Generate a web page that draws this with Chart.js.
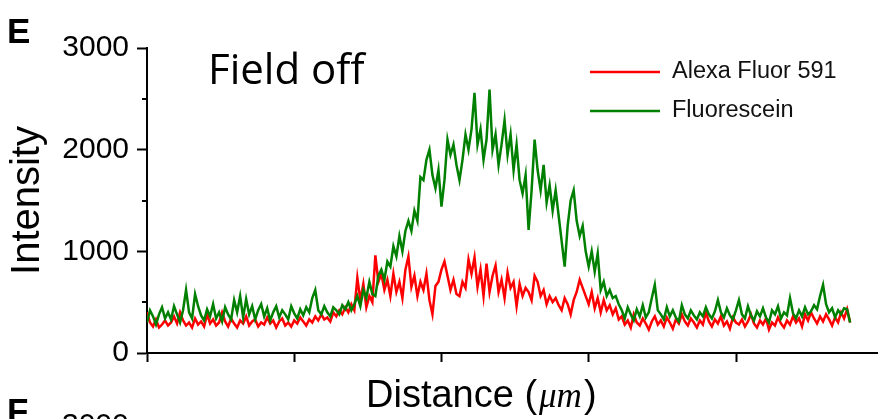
<!DOCTYPE html>
<html>
<head>
<meta charset="utf-8">
<script src="https://cdn.jsdelivr.net/npm/chart.js@4.4.0/dist/chart.umd.min.js"></script>
<style>
  html, body { margin: 0; padding: 0; background: #fff; }
  #wrap { width: 878px; height: 419px; position: relative; }
</style>
</head>
<body>
<div id="wrap"><canvas id="chart" width="878" height="419"></canvas></div>
<script>
const seriesNames = ['Alexa Fluor 591', 'Fluorescein'];
const seriesColors = ['#ff0000', '#008000'];

// intensity profiles, one sample every ~3 px
const alexaValues = [
  400,300,260,330,250,280,320,270,300,360, 290,400,320,270,300,250,340,280,310,260,
  380,290,330,270,300,400,310,260,340,290, 250,320,290,360,270,310,330,260,300,280,
  350,290,320,250,310,340,270,300,260,320, 290,350,310,270,330,300,360,320,380,330,
  350,310,400,360,420,380,450,400,480,420,
  740,520,680,450,560,500,960,700,780,620, 720,560,780,600,700,540,820,950,650,760,
  560,700,
  620,780,520,380,660,700,820,900,760,620, 720,580,560,700,640,920,780,940,650,820,
  560,880,600,760,860,600,720,540,790,640, 700,460,680,560,640,600,520,760,700,560,
  620,480,560,500,540,470,
  420,540,480,380,520,600,720,640,560,480, 600,440,540,400,520,420,470,380,440,330,
  360,280,320,250,380,300,270,340,290,230, 310,360,280,320,260,350,300,240,330,290,
  380,310,270,340,300,250,320,280,400,310, 260,330,290,360,270,310,240,350,300,280,
  330,260,310,380,290,250,320,280,340,230, 300,270,350,290,250,320,280,360,300,340,
  260,380,320,400,340,290,360,310,380,330, 270,350,300,400,340,430,300
];
const fluoresceinValues = [
  300,420,360,280,380,450,340,400,330,460, 380,300,420,620,400,340,580,460,370,320,
  430,360,480,340,400,310,450,380,330,520, 400,560,350,530,380,460,330,420,480,360,
  440,320,400,460,350,420,380,330,460,390, 340,430,370,450,400,540,620,420,380,460,
  400,360,450,420,380,470,430,500,420,480,
  560,460,620,540,700,580,560,760,820,720, 900,850,1050,950,1150,1000,1200,1300,1200,1400,
  1300,1730,
  1700,1900,2000,1750,1620,1800,1440,1700,2100,1950, 2050,1850,1700,1900,2150,2000,2200,2560,2050,2200,
  1900,2100,2590,2000,2150,1850,2050,2290,1950,2150, 1800,2050,1700,1570,1750,1210,1600,2100,1800,1600,
  1850,1480,1650,1400,1600,1350,
  1100,850,1250,1500,1600,1300,1150,1250,1000,850, 1000,800,980,620,700,560,620,540,560,480,
  420,340,450,380,320,430,360,470,350,400, 540,670,420,380,330,450,360,420,350,310,
  470,380,340,420,370,330,400,360,450,380, 340,410,520,400,350,440,370,330,420,520,
  380,340,460,370,320,410,360,440,350,300, 420,380,460,340,400,370,540,390,340,420,
  360,450,380,410,470,430,560,670,480,400, 440,350,420,380,440,430,300
];

const distStep = 0.0204;
const distance = alexaValues.map((_, i) => +(i * distStep).toFixed(4));
const xTicks = [0, 1, 2, 3, 4];
const xMax = 4.963;
const yTicks = [0, 1000, 2000, 3000];
const yMinorTicks = [500, 1500, 2500];

const sans = "'Liberation Sans', Arial, sans-serif";

const toPoints = vals => vals.map((v, i) => ({ x: distance[i], y: v }));

const annotate = {
  id: 'annotate',
  afterDraw(chart) {
    const ctx = chart.ctx;
    const ys = chart.scales.y;
    const left = chart.chartArea.left;
    ctx.save();

    // minor ticks on the y axis
    ctx.strokeStyle = '#000';
    ctx.lineWidth = 2;
    yMinorTicks.forEach(v => {
      const py = Math.round(ys.getPixelForValue(v));
      ctx.beginPath();
      ctx.moveTo(left - 5, py);
      ctx.lineTo(left, py);
      ctx.stroke();
    });

    // x axis title with italic unit
    ctx.fillStyle = '#000';
    ctx.textBaseline = 'alphabetic';
    ctx.textAlign = 'left';
    let tx = 366;
    const ty = 407;
    ctx.font = '38px ' + sans;
    ctx.fillText('Distance (', tx, ty);
    tx += ctx.measureText('Distance (').width;
    ctx.font = "italic 35px 'Liberation Serif', 'Times New Roman', serif";
    ctx.fillText('\u03bcm', tx + 2, ty);
    tx += ctx.measureText('\u03bcm').width + 4;
    ctx.font = '38px ' + sans;
    ctx.fillText(')', tx, ty);

    // panel text
    ctx.font = "42px 'Open Sans', sans-serif";
    ctx.fillText('Field off', 208, 84);

    ctx.font = 'bold 35px ' + sans;
    ctx.fillText('E', 7, 43);
    ctx.fillText('F', 7, 423);
    ctx.font = '30px ' + sans;
    ctx.fillText('3000', 62, 434);

    // legend
    chart.data.datasets.forEach((ds, i) => {
      const ly = 72 + i * 39;
      ctx.strokeStyle = ds.borderColor;
      ctx.lineWidth = 2.5;
      ctx.beginPath();
      ctx.moveTo(590, ly);
      ctx.lineTo(660, ly);
      ctx.stroke();
      ctx.fillStyle = '#111';
      ctx.font = '23.5px ' + sans;
      ctx.textBaseline = 'middle';
      ctx.fillText(ds.label, 672, ly);
    });
    ctx.restore();
  }
};

const axisGrid = tick => ({
  drawOnChartArea: false,
  drawTicks: true,
  tickLength: tick,
  tickWidth: 2,
  tickColor: '#000'
});

new Chart(document.getElementById('chart'), {
  type: 'line',
  data: {
    datasets: [
      {
        label: seriesNames[0],
        data: toPoints(alexaValues),
        borderColor: seriesColors[0],
        borderWidth: 2.5,
        pointRadius: 0,
        tension: 0,
        order: 1
      },
      {
        label: seriesNames[1],
        data: toPoints(fluoresceinValues),
        borderColor: seriesColors[1],
        borderWidth: 2.5,
        pointRadius: 0,
        tension: 0,
        order: 0
      }
    ]
  },
  options: {
    responsive: false,
    animation: false,
    layout: { padding: { top: 48, right: 0, bottom: 0, left: 0 } },
    plugins: { legend: { display: false }, tooltip: { enabled: false } },
    scales: {
      x: {
        type: 'linear',
        min: 0,
        max: xMax,
        afterBuildTicks: s => { s.ticks = xTicks.map(v => ({ value: v })); },
        afterFit: s => { s.height = 66; s.paddingLeft = 0; s.paddingRight = 0; },
        ticks: { display: false },
        grid: axisGrid(9),
        border: { display: true, color: '#000', width: 2 }
      },
      y: {
        min: 0,
        max: 3000,
        afterBuildTicks: s => { s.ticks = yTicks.map(v => ({ value: v })); },
        afterFit: s => { s.width = 147; s.paddingTop = 0; s.paddingBottom = 0; },
        ticks: {
          color: '#000',
          padding: 8,
          font: { family: sans, size: 30 },
          callback: v => String(v)
        },
        grid: axisGrid(10),
        border: { display: true, color: '#000', width: 2 },
        title: {
          display: true,
          text: 'Intensity',
          color: '#000',
          font: { family: sans, size: 40 },
          padding: { top: 4, bottom: 0 }
        }
      }
    }
  },
  plugins: [annotate]
});
</script>
</body>
</html>
